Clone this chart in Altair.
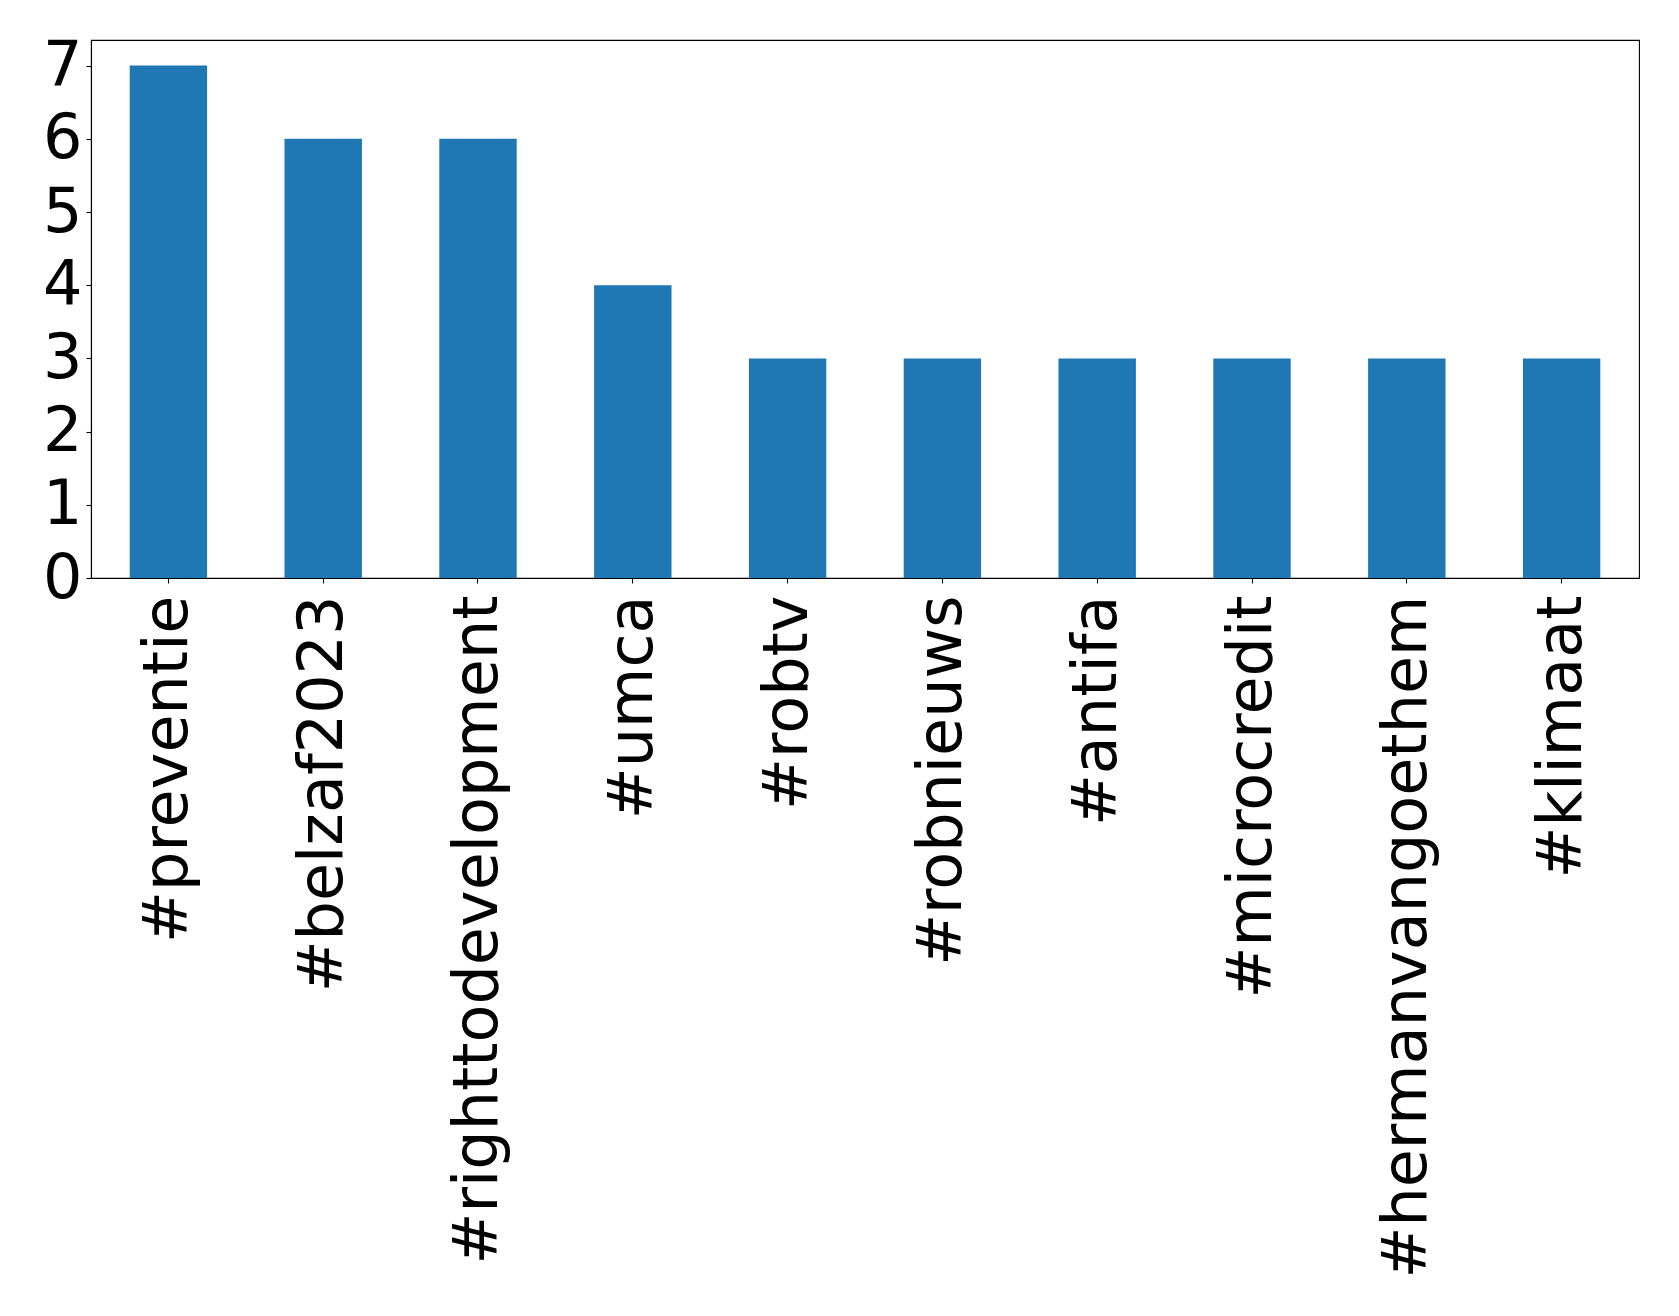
import altair as alt
import pandas as pd

hashtags = ["#preventie", "#belzaf2023", "#righttodevelopment", "#umca", "#robtv",
            "#robnieuws", "#antifa", "#microcredit", "#hermanvangoethem", "#klimaat"]
counts = [7, 6, 6, 4, 3, 3, 3, 3, 3, 3]
y_ticks = [0, 1, 2, 3, 4, 5, 6, 7]

df = pd.DataFrame({"tag": hashtags, "count": counts})

chart = alt.Chart(df).mark_bar(color="#1f77b4").encode(
    x=alt.X("tag:N", sort=hashtags,
            scale=alt.Scale(paddingInner=0.5, paddingOuter=0.25),
            axis=alt.Axis(title=None, labelAngle=270, labelAlign="right",
                          labelBaseline="middle", labelPadding=12,
                          labelFontSize=62, labelFont="DejaVu Sans",
                          labelColor="black", tickColor="black", tickSize=5,
                          domainColor="black", domainWidth=1.1, tickWidth=1.1,
                          labelLimit=0, grid=False)),
    y=alt.Y("count:Q", scale=alt.Scale(domain=[0, 7.35], nice=False),
            axis=alt.Axis(title=None, values=y_ticks, labelFontSize=62,
                          labelFont="DejaVu Sans", labelColor="black",
                          tickColor="black", tickSize=5, labelPadding=4,
                          domainColor="black", domainWidth=1.1, tickWidth=1.1,
                          grid=False, labelFlush=False))
).properties(
    width=1548, height=538,
    autosize=alt.AutoSizeParams(type="none"),
    padding={"left": 83, "top": 32, "right": 32, "bottom": 720},
    background="white"
).configure_view(stroke="black", strokeWidth=1.1)

chart.save("out.html", embed_options={"renderer": "svg", "actions": False})
